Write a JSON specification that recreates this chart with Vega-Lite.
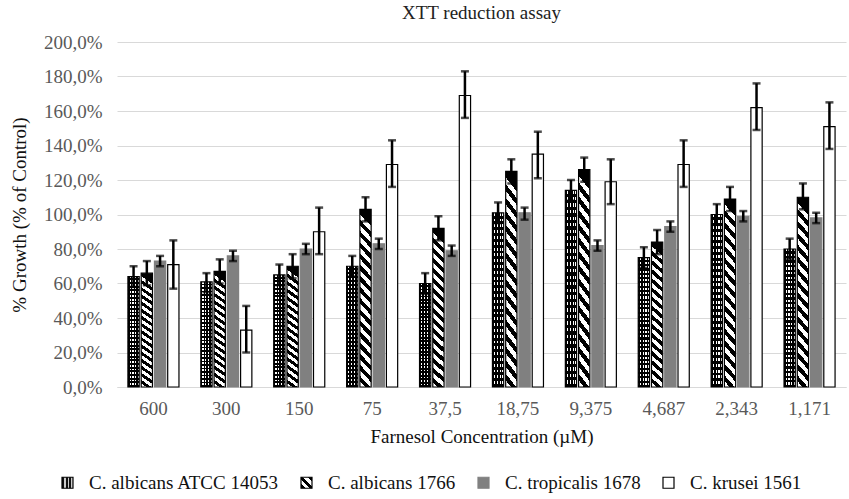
{
  "$schema": "https://vega.github.io/schema/vega-lite/v6.json",
  "width": 729,
  "height": 345,
  "autosize": "none",
  "padding": {"left": 117, "top": 42, "right": 3, "bottom": 112},
  "background": "white",
  "config": {
    "font": "Times New Roman, Liberation Serif, DejaVu Serif, serif",
    "view": {"stroke": null},
    "axis": {"labelFont": "Times New Roman, Liberation Serif, DejaVu Serif, serif", "titleFont": "Times New Roman, Liberation Serif, DejaVu Serif, serif", "titleFontWeight": "normal"},
    "legend": {"labelFont": "Times New Roman, Liberation Serif, DejaVu Serif, serif"},
    "title": {"font": "Times New Roman, Liberation Serif, DejaVu Serif, serif"}
  },
  "title": {"text": "XTT reduction assay", "fontSize": 19, "fontWeight": "normal", "color": "#222222", "anchor": "middle", "offset": 10},
  "data": {
    "values": [
      {"conc": "600", "series": "C. albicans ATCC 14053", "mean": 64, "lo": 58, "hi": 70},
      {"conc": "600", "series": "C. albicans 1766", "mean": 66, "lo": 59, "hi": 73},
      {"conc": "600", "series": "C. tropicalis 1678", "mean": 73, "lo": 70, "hi": 76},
      {"conc": "600", "series": "C. krusei 1561", "mean": 71, "lo": 57, "hi": 85},
      {"conc": "300", "series": "C. albicans ATCC 14053", "mean": 61, "lo": 55, "hi": 66},
      {"conc": "300", "series": "C. albicans 1766", "mean": 67, "lo": 60, "hi": 74},
      {"conc": "300", "series": "C. tropicalis 1678", "mean": 76, "lo": 73, "hi": 79},
      {"conc": "300", "series": "C. krusei 1561", "mean": 33, "lo": 20, "hi": 47},
      {"conc": "150", "series": "C. albicans ATCC 14053", "mean": 65, "lo": 59, "hi": 71},
      {"conc": "150", "series": "C. albicans 1766", "mean": 70, "lo": 63, "hi": 77},
      {"conc": "150", "series": "C. tropicalis 1678", "mean": 80, "lo": 77, "hi": 83},
      {"conc": "150", "series": "C. krusei 1561", "mean": 90, "lo": 77, "hi": 104},
      {"conc": "75", "series": "C. albicans ATCC 14053", "mean": 70, "lo": 64, "hi": 76},
      {"conc": "75", "series": "C. albicans 1766", "mean": 103, "lo": 96, "hi": 110},
      {"conc": "75", "series": "C. tropicalis 1678", "mean": 83, "lo": 80, "hi": 86},
      {"conc": "75", "series": "C. krusei 1561", "mean": 129, "lo": 116, "hi": 143},
      {"conc": "37,5", "series": "C. albicans ATCC 14053", "mean": 60, "lo": 54, "hi": 66},
      {"conc": "37,5", "series": "C. albicans 1766", "mean": 92, "lo": 85, "hi": 99},
      {"conc": "37,5", "series": "C. tropicalis 1678", "mean": 79, "lo": 76, "hi": 82},
      {"conc": "37,5", "series": "C. krusei 1561", "mean": 169, "lo": 156, "hi": 183},
      {"conc": "18,75", "series": "C. albicans ATCC 14053", "mean": 101, "lo": 95, "hi": 107},
      {"conc": "18,75", "series": "C. albicans 1766", "mean": 125, "lo": 118, "hi": 132},
      {"conc": "18,75", "series": "C. tropicalis 1678", "mean": 101, "lo": 97, "hi": 104},
      {"conc": "18,75", "series": "C. krusei 1561", "mean": 135, "lo": 121, "hi": 148},
      {"conc": "9,375", "series": "C. albicans ATCC 14053", "mean": 114, "lo": 108, "hi": 120},
      {"conc": "9,375", "series": "C. albicans 1766", "mean": 126, "lo": 119, "hi": 133},
      {"conc": "9,375", "series": "C. tropicalis 1678", "mean": 82, "lo": 79, "hi": 85},
      {"conc": "9,375", "series": "C. krusei 1561", "mean": 119, "lo": 106, "hi": 132},
      {"conc": "4,687", "series": "C. albicans ATCC 14053", "mean": 75, "lo": 69, "hi": 81},
      {"conc": "4,687", "series": "C. albicans 1766", "mean": 84, "lo": 77, "hi": 91},
      {"conc": "4,687", "series": "C. tropicalis 1678", "mean": 93, "lo": 90, "hi": 96},
      {"conc": "4,687", "series": "C. krusei 1561", "mean": 129, "lo": 116, "hi": 143},
      {"conc": "2,343", "series": "C. albicans ATCC 14053", "mean": 100, "lo": 94, "hi": 106},
      {"conc": "2,343", "series": "C. albicans 1766", "mean": 109, "lo": 102, "hi": 116},
      {"conc": "2,343", "series": "C. tropicalis 1678", "mean": 99, "lo": 96, "hi": 102},
      {"conc": "2,343", "series": "C. krusei 1561", "mean": 162, "lo": 149, "hi": 176},
      {"conc": "1,171", "series": "C. albicans ATCC 14053", "mean": 80, "lo": 74, "hi": 86},
      {"conc": "1,171", "series": "C. albicans 1766", "mean": 110, "lo": 103, "hi": 118},
      {"conc": "1,171", "series": "C. tropicalis 1678", "mean": 98, "lo": 95, "hi": 101},
      {"conc": "1,171", "series": "C. krusei 1561", "mean": 151, "lo": 138, "hi": 165}
    ]
  },
  "encoding": {
    "x": {
      "field": "conc", "type": "nominal", "sort": null,
      "scale": {"domain": ["600", "300", "150", "75", "37,5", "18,75", "9,375", "4,687", "2,343", "1,171"], "paddingInner": 0.3, "paddingOuter": 0.15},
      "axis": {"title": "Farnesol Concentration (µM)", "labelAngle": 0, "labelFontSize": 19, "labelColor": "#595959", "labelPadding": 12, "ticks": false, "domainColor": "#d9d9d9", "titleFontSize": 19, "titleColor": "#111111", "titlePadding": 9}
    },
    "xOffset": {"field": "series", "type": "nominal", "sort": null, "scale": {"domain": ["C. albicans ATCC 14053", "C. albicans 1766", "C. tropicalis 1678", "C. krusei 1561"], "paddingInner": 0.15}}
  },
  "layer": [
    {
      "mark": {"type": "bar", "strokeWidth": 1.2},
      "encoding": {
        "y": {
          "field": "mean", "type": "quantitative",
          "scale": {"domain": [0, 200]},
          "axis": {"title": "% Growth (% of Control)", "values": [0, 20, 40, 60, 80, 100, 120, 140, 160, 180, 200], "labelOverlap": false, "labelExpr": "replace(format(datum.value, '.1f'), '.', ',') + '%'", "labelFontSize": 19, "labelColor": "#595959", "labelPadding": 15, "ticks": false, "domain": false, "gridColor": "#d9d9d9", "titleFontSize": 19, "titleColor": "#111111", "titlePadding": 14}
        },
        "fill": {
          "condition": [
            {"test": "datum.series === 'C. albicans ATCC 14053'", "value": {"gradient": "linear", "x1": 0, "y1": 0, "x2": 1, "y2": 0, "stops": [
                {"offset": 0, "color": "#000000"}, {"offset": 0.14, "color": "#000000"}, {"offset": 0.14, "color": "#ffffff"}, {"offset": 0.25, "color": "#ffffff"},
                {"offset": 0.25, "color": "#000000"}, {"offset": 0.39, "color": "#000000"}, {"offset": 0.39, "color": "#ffffff"}, {"offset": 0.5, "color": "#ffffff"},
                {"offset": 0.5, "color": "#000000"}, {"offset": 0.64, "color": "#000000"}, {"offset": 0.64, "color": "#ffffff"}, {"offset": 0.75, "color": "#ffffff"},
                {"offset": 0.75, "color": "#000000"}, {"offset": 0.89, "color": "#000000"}, {"offset": 0.89, "color": "#ffffff"}, {"offset": 1, "color": "#ffffff"}
              ]}},
            {"test": "datum.series === 'C. albicans 1766'", "value": {"gradient": "linear", "x1": 0.068, "y1": 0, "x2": 0, "y2": 1, "stops": [
                {"offset": 0, "color": "#000000"}, {"offset": 0.03125, "color": "#000000"}, {"offset": 0.03125, "color": "#ffffff"}, {"offset": 0.0625, "color": "#ffffff"},
                {"offset": 0.0625, "color": "#000000"}, {"offset": 0.09375, "color": "#000000"}, {"offset": 0.09375, "color": "#ffffff"}, {"offset": 0.125, "color": "#ffffff"},
                {"offset": 0.125, "color": "#000000"}, {"offset": 0.15625, "color": "#000000"}, {"offset": 0.15625, "color": "#ffffff"}, {"offset": 0.1875, "color": "#ffffff"},
                {"offset": 0.1875, "color": "#000000"}, {"offset": 0.21875, "color": "#000000"}, {"offset": 0.21875, "color": "#ffffff"}, {"offset": 0.25, "color": "#ffffff"},
                {"offset": 0.25, "color": "#000000"}, {"offset": 0.28125, "color": "#000000"}, {"offset": 0.28125, "color": "#ffffff"}, {"offset": 0.3125, "color": "#ffffff"},
                {"offset": 0.3125, "color": "#000000"}, {"offset": 0.34375, "color": "#000000"}, {"offset": 0.34375, "color": "#ffffff"}, {"offset": 0.375, "color": "#ffffff"},
                {"offset": 0.375, "color": "#000000"}, {"offset": 0.40625, "color": "#000000"}, {"offset": 0.40625, "color": "#ffffff"}, {"offset": 0.4375, "color": "#ffffff"},
                {"offset": 0.4375, "color": "#000000"}, {"offset": 0.46875, "color": "#000000"}, {"offset": 0.46875, "color": "#ffffff"}, {"offset": 0.5, "color": "#ffffff"},
                {"offset": 0.5, "color": "#000000"}, {"offset": 0.53125, "color": "#000000"}, {"offset": 0.53125, "color": "#ffffff"}, {"offset": 0.5625, "color": "#ffffff"},
                {"offset": 0.5625, "color": "#000000"}, {"offset": 0.59375, "color": "#000000"}, {"offset": 0.59375, "color": "#ffffff"}, {"offset": 0.625, "color": "#ffffff"},
                {"offset": 0.625, "color": "#000000"}, {"offset": 0.65625, "color": "#000000"}, {"offset": 0.65625, "color": "#ffffff"}, {"offset": 0.6875, "color": "#ffffff"},
                {"offset": 0.6875, "color": "#000000"}, {"offset": 0.71875, "color": "#000000"}, {"offset": 0.71875, "color": "#ffffff"}, {"offset": 0.75, "color": "#ffffff"},
                {"offset": 0.75, "color": "#000000"}, {"offset": 0.78125, "color": "#000000"}, {"offset": 0.78125, "color": "#ffffff"}, {"offset": 0.8125, "color": "#ffffff"},
                {"offset": 0.8125, "color": "#000000"}, {"offset": 0.84375, "color": "#000000"}, {"offset": 0.84375, "color": "#ffffff"}, {"offset": 0.875, "color": "#ffffff"},
                {"offset": 0.875, "color": "#000000"}, {"offset": 0.90625, "color": "#000000"}, {"offset": 0.90625, "color": "#ffffff"}, {"offset": 0.9375, "color": "#ffffff"},
                {"offset": 0.9375, "color": "#000000"}, {"offset": 0.96875, "color": "#000000"}, {"offset": 0.96875, "color": "#ffffff"}, {"offset": 1, "color": "#ffffff"}
              ]}},
            {"test": "datum.series === 'C. tropicalis 1678'", "value": "#808080"}
          ],
          "value": "#ffffff"
        },
        "stroke": {
          "field": "series", "type": "nominal", "sort": null,
          "scale": {"domain": ["C. albicans ATCC 14053", "C. albicans 1766", "C. tropicalis 1678", "C. krusei 1561"], "range": ["#000000", "#000000", "#808080", "#000000"]},
          "legend": {
            "title": null, "orient": "none", "legendX": -59, "legendY": 431, "direction": "horizontal", "symbolType": "square", "symbolSize": 121, "labelFontSize": 19, "labelColor": "#111111", "labelLimit": 400, "labelOffset": 12, "columnPadding": 18, "symbolStrokeWidth": 1.2,
            "encoding": {"symbols": {"fill": {
              "condition": [
                {"test": "datum.value === 'C. albicans ATCC 14053'", "value": {"gradient": "linear", "x1": 0, "y1": 0, "x2": 1, "y2": 0, "stops": [
                  {"offset": 0, "color": "#111111"}, {"offset": 0.2, "color": "#111111"}, {"offset": 0.2, "color": "#cccccc"}, {"offset": 0.33, "color": "#cccccc"},
                  {"offset": 0.33, "color": "#111111"}, {"offset": 0.53, "color": "#111111"}, {"offset": 0.53, "color": "#cccccc"}, {"offset": 0.66, "color": "#cccccc"},
                  {"offset": 0.66, "color": "#111111"}, {"offset": 0.86, "color": "#111111"}, {"offset": 0.86, "color": "#cccccc"}, {"offset": 1, "color": "#cccccc"}
                ]}},
                {"test": "datum.value === 'C. albicans 1766'", "value": {"gradient": "linear", "x1": 1, "y1": 0, "x2": 0, "y2": 1, "stops": [
                  {"offset": 0, "color": "#000000"}, {"offset": 0.2, "color": "#000000"}, {"offset": 0.2, "color": "#ffffff"}, {"offset": 0.4, "color": "#ffffff"},
                  {"offset": 0.4, "color": "#000000"}, {"offset": 0.6, "color": "#000000"}, {"offset": 0.6, "color": "#ffffff"}, {"offset": 0.8, "color": "#ffffff"},
                  {"offset": 0.8, "color": "#000000"}, {"offset": 1, "color": "#000000"}
                ]}},
                {"test": "datum.value === 'C. tropicalis 1678'", "value": "#808080"}
              ],
              "value": "#ffffff"
            }}}
          }
        }
      }
    },
    {
      "mark": {"type": "bar", "strokeWidth": 0},
      "encoding": {
        "y": {"field": "mean", "type": "quantitative", "axis": {"title": "% Growth (% of Control)", "values": [0, 20, 40, 60, 80, 100, 120, 140, 160, 180, 200], "labelOverlap": false, "labelExpr": "replace(format(datum.value, '.1f'), '.', ',') + '%'", "labelFontSize": 19, "labelColor": "#595959", "labelPadding": 15, "ticks": false, "domain": false, "gridColor": "#d9d9d9", "titleFontSize": 19, "titleColor": "#111111", "titlePadding": 14}},
        "fill": {
          "condition": {"test": "datum.series === 'C. albicans ATCC 14053'", "value": {"gradient": "linear", "x1": 0, "y1": 0, "x2": 0, "y2": 1, "stops": [
            {"offset": 0, "color": "rgba(0,0,0,0)"}, {"offset": 0.0167, "color": "rgba(0,0,0,0)"}, {"offset": 0.0167, "color": "#000000"}, {"offset": 0.0333, "color": "#000000"},
            {"offset": 0.0333, "color": "rgba(0,0,0,0)"}, {"offset": 0.05, "color": "rgba(0,0,0,0)"}, {"offset": 0.05, "color": "#000000"}, {"offset": 0.0667, "color": "#000000"},
            {"offset": 0.0667, "color": "rgba(0,0,0,0)"}, {"offset": 0.0833, "color": "rgba(0,0,0,0)"}, {"offset": 0.0833, "color": "#000000"}, {"offset": 0.1, "color": "#000000"},
            {"offset": 0.1, "color": "rgba(0,0,0,0)"}, {"offset": 0.1167, "color": "rgba(0,0,0,0)"}, {"offset": 0.1167, "color": "#000000"}, {"offset": 0.1333, "color": "#000000"},
            {"offset": 0.1333, "color": "rgba(0,0,0,0)"}, {"offset": 0.15, "color": "rgba(0,0,0,0)"}, {"offset": 0.15, "color": "#000000"}, {"offset": 0.1667, "color": "#000000"},
            {"offset": 0.1667, "color": "rgba(0,0,0,0)"}, {"offset": 0.1833, "color": "rgba(0,0,0,0)"}, {"offset": 0.1833, "color": "#000000"}, {"offset": 0.2, "color": "#000000"},
            {"offset": 0.2, "color": "rgba(0,0,0,0)"}, {"offset": 0.2167, "color": "rgba(0,0,0,0)"}, {"offset": 0.2167, "color": "#000000"}, {"offset": 0.2333, "color": "#000000"},
            {"offset": 0.2333, "color": "rgba(0,0,0,0)"}, {"offset": 0.25, "color": "rgba(0,0,0,0)"}, {"offset": 0.25, "color": "#000000"}, {"offset": 0.2667, "color": "#000000"},
            {"offset": 0.2667, "color": "rgba(0,0,0,0)"}, {"offset": 0.2833, "color": "rgba(0,0,0,0)"}, {"offset": 0.2833, "color": "#000000"}, {"offset": 0.3, "color": "#000000"},
            {"offset": 0.3, "color": "rgba(0,0,0,0)"}, {"offset": 0.3167, "color": "rgba(0,0,0,0)"}, {"offset": 0.3167, "color": "#000000"}, {"offset": 0.3333, "color": "#000000"},
            {"offset": 0.3333, "color": "rgba(0,0,0,0)"}, {"offset": 0.35, "color": "rgba(0,0,0,0)"}, {"offset": 0.35, "color": "#000000"}, {"offset": 0.3667, "color": "#000000"},
            {"offset": 0.3667, "color": "rgba(0,0,0,0)"}, {"offset": 0.3833, "color": "rgba(0,0,0,0)"}, {"offset": 0.3833, "color": "#000000"}, {"offset": 0.4, "color": "#000000"},
            {"offset": 0.4, "color": "rgba(0,0,0,0)"}, {"offset": 0.4167, "color": "rgba(0,0,0,0)"}, {"offset": 0.4167, "color": "#000000"}, {"offset": 0.4333, "color": "#000000"},
            {"offset": 0.4333, "color": "rgba(0,0,0,0)"}, {"offset": 0.45, "color": "rgba(0,0,0,0)"}, {"offset": 0.45, "color": "#000000"}, {"offset": 0.4667, "color": "#000000"},
            {"offset": 0.4667, "color": "rgba(0,0,0,0)"}, {"offset": 0.4833, "color": "rgba(0,0,0,0)"}, {"offset": 0.4833, "color": "#000000"}, {"offset": 0.5, "color": "#000000"},
            {"offset": 0.5, "color": "rgba(0,0,0,0)"}, {"offset": 0.5167, "color": "rgba(0,0,0,0)"}, {"offset": 0.5167, "color": "#000000"}, {"offset": 0.5333, "color": "#000000"},
            {"offset": 0.5333, "color": "rgba(0,0,0,0)"}, {"offset": 0.55, "color": "rgba(0,0,0,0)"}, {"offset": 0.55, "color": "#000000"}, {"offset": 0.5667, "color": "#000000"},
            {"offset": 0.5667, "color": "rgba(0,0,0,0)"}, {"offset": 0.5833, "color": "rgba(0,0,0,0)"}, {"offset": 0.5833, "color": "#000000"}, {"offset": 0.6, "color": "#000000"},
            {"offset": 0.6, "color": "rgba(0,0,0,0)"}, {"offset": 0.6167, "color": "rgba(0,0,0,0)"}, {"offset": 0.6167, "color": "#000000"}, {"offset": 0.6333, "color": "#000000"},
            {"offset": 0.6333, "color": "rgba(0,0,0,0)"}, {"offset": 0.65, "color": "rgba(0,0,0,0)"}, {"offset": 0.65, "color": "#000000"}, {"offset": 0.6667, "color": "#000000"},
            {"offset": 0.6667, "color": "rgba(0,0,0,0)"}, {"offset": 0.6833, "color": "rgba(0,0,0,0)"}, {"offset": 0.6833, "color": "#000000"}, {"offset": 0.7, "color": "#000000"},
            {"offset": 0.7, "color": "rgba(0,0,0,0)"}, {"offset": 0.7167, "color": "rgba(0,0,0,0)"}, {"offset": 0.7167, "color": "#000000"}, {"offset": 0.7333, "color": "#000000"},
            {"offset": 0.7333, "color": "rgba(0,0,0,0)"}, {"offset": 0.75, "color": "rgba(0,0,0,0)"}, {"offset": 0.75, "color": "#000000"}, {"offset": 0.7667, "color": "#000000"},
            {"offset": 0.7667, "color": "rgba(0,0,0,0)"}, {"offset": 0.7833, "color": "rgba(0,0,0,0)"}, {"offset": 0.7833, "color": "#000000"}, {"offset": 0.8, "color": "#000000"},
            {"offset": 0.8, "color": "rgba(0,0,0,0)"}, {"offset": 0.8167, "color": "rgba(0,0,0,0)"}, {"offset": 0.8167, "color": "#000000"}, {"offset": 0.8333, "color": "#000000"},
            {"offset": 0.8333, "color": "rgba(0,0,0,0)"}, {"offset": 0.85, "color": "rgba(0,0,0,0)"}, {"offset": 0.85, "color": "#000000"}, {"offset": 0.8667, "color": "#000000"},
            {"offset": 0.8667, "color": "rgba(0,0,0,0)"}, {"offset": 0.8833, "color": "rgba(0,0,0,0)"}, {"offset": 0.8833, "color": "#000000"}, {"offset": 0.9, "color": "#000000"},
            {"offset": 0.9, "color": "rgba(0,0,0,0)"}, {"offset": 0.9167, "color": "rgba(0,0,0,0)"}, {"offset": 0.9167, "color": "#000000"}, {"offset": 0.9333, "color": "#000000"},
            {"offset": 0.9333, "color": "rgba(0,0,0,0)"}, {"offset": 0.95, "color": "rgba(0,0,0,0)"}, {"offset": 0.95, "color": "#000000"}, {"offset": 0.9667, "color": "#000000"},
            {"offset": 0.9667, "color": "rgba(0,0,0,0)"}, {"offset": 0.9833, "color": "rgba(0,0,0,0)"}, {"offset": 0.9833, "color": "#000000"}, {"offset": 1, "color": "#000000"}
          ]}},
          "value": "transparent"
        }
      }
    },
    {
      "mark": {"type": "rule", "color": "#000000", "strokeWidth": 2.5},
      "encoding": {
        "y": {"field": "lo", "type": "quantitative", "axis": {"title": "% Growth (% of Control)", "values": [0, 20, 40, 60, 80, 100, 120, 140, 160, 180, 200], "labelOverlap": false, "labelExpr": "replace(format(datum.value, '.1f'), '.', ',') + '%'", "labelFontSize": 19, "labelColor": "#595959", "labelPadding": 15, "ticks": false, "domain": false, "gridColor": "#d9d9d9", "titleFontSize": 19, "titleColor": "#111111", "titlePadding": 14}},
        "y2": {"field": "hi"}
      }
    },
    {
      "mark": {"type": "tick", "color": "#000000", "thickness": 2.5, "size": 8, "orient": "horizontal"},
      "encoding": {"y": {"field": "lo", "type": "quantitative", "axis": {"title": "% Growth (% of Control)", "values": [0, 20, 40, 60, 80, 100, 120, 140, 160, 180, 200], "labelOverlap": false, "labelExpr": "replace(format(datum.value, '.1f'), '.', ',') + '%'", "labelFontSize": 19, "labelColor": "#595959", "labelPadding": 15, "ticks": false, "domain": false, "gridColor": "#d9d9d9", "titleFontSize": 19, "titleColor": "#111111", "titlePadding": 14}}}
    },
    {
      "mark": {"type": "tick", "color": "#000000", "thickness": 2.5, "size": 8, "orient": "horizontal"},
      "encoding": {"y": {"field": "hi", "type": "quantitative", "axis": {"title": "% Growth (% of Control)", "values": [0, 20, 40, 60, 80, 100, 120, 140, 160, 180, 200], "labelOverlap": false, "labelExpr": "replace(format(datum.value, '.1f'), '.', ',') + '%'", "labelFontSize": 19, "labelColor": "#595959", "labelPadding": 15, "ticks": false, "domain": false, "gridColor": "#d9d9d9", "titleFontSize": 19, "titleColor": "#111111", "titlePadding": 14}}}
    }
  ]
}
